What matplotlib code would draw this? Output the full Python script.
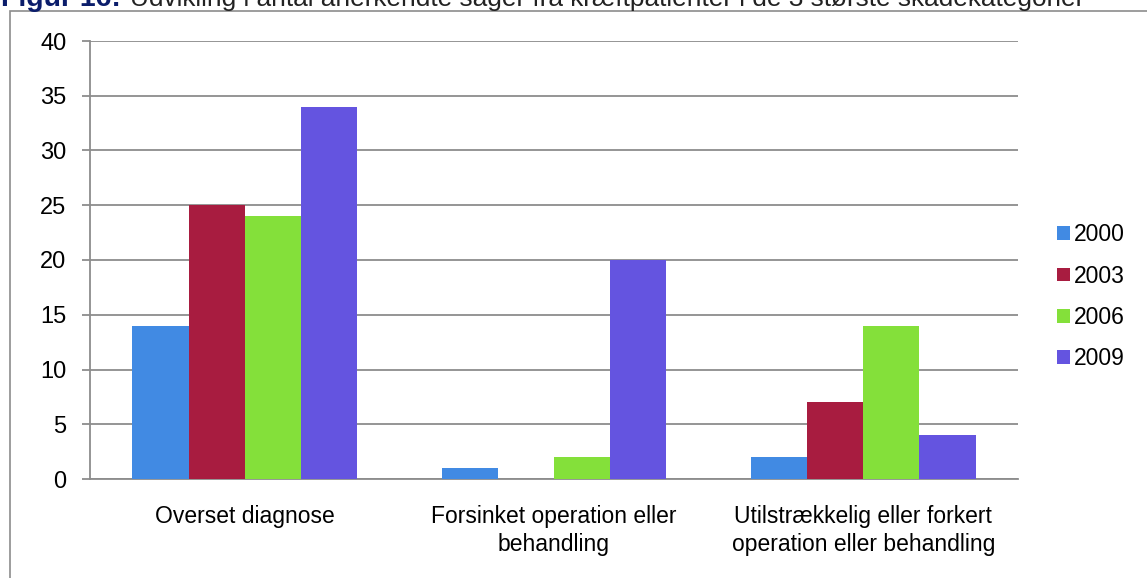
import matplotlib.pyplot as plt
import numpy as np
from matplotlib.patches import Rectangle

categories = ['Overset diagnose', 'Forsinket operation eller\nbehandling',
              'Utilstrækkelig eller forkert\noperation eller behandling']
years = ['2000', '2003', '2006', '2009']
v2000 = [14, 1, 2]
v2003 = [25, 0, 7]
v2006 = [24, 2, 14]
v2009 = [34, 20, 4]
colors = ['#418AE3', '#A81C40', '#84E03A', '#6454E0']

plt.rcParams['font.family'] = ['Liberation Sans', 'DejaVu Sans']

fig = plt.figure(figsize=(11.47, 5.78), dpi=100)
ax = fig.add_axes([90 / 1147, 1 - 479 / 578, 928 / 1147, 438 / 578])

x = np.arange(len(categories))
w = 0.7255 / 4
series = [v2000, v2003, v2006, v2009]
for i, (vals, year) in enumerate(zip(series, years)):
    ax.bar(x + (i - 1.5) * w, vals, w, color=colors[i], label=year, zorder=3)

ax.set_xlim(-0.5, 2.5)
ax.set_ylim(0, 40)
ax.set_yticks(range(0, 41, 5))
ax.yaxis.grid(True, color='#8c8c8c', linewidth=1.3, zorder=0)
ax.set_xticks(x)
ax.set_xticklabels(categories, fontsize=16.5, linespacing=1.28)
ax.tick_params(axis='x', length=0, pad=19)
ax.tick_params(axis='y', labelsize=17, length=6, color='#8c8c8c', width=1.3, pad=11)
for s in ['top', 'right']:
    ax.spines[s].set_visible(False)
for s in ['left', 'bottom']:
    ax.spines[s].set_color('#8c8c8c')
    ax.spines[s].set_linewidth(1.3)

ax.legend(loc='center left', bbox_to_anchor=(1.02, 0.416), frameon=False,
          fontsize=16.5, handlelength=0.55, handleheight=0.55, handletextpad=0.2,
          labelspacing=0.8)

# outer chart border
fig.patches.append(Rectangle((10 / 1147, -0.1), 1.2, 1 - 11 / 578 + 0.1,
                             transform=fig.transFigure, fill=False,
                             edgecolor='#8c8c8c', linewidth=1.2))

# title, mostly cut off at the top
fig.text(1 / 1147, 1 - 6 / 578, 'Figur 16:', fontsize=20.5, fontweight='bold',
         color='#0B1D6B', va='baseline')
fig.text(130 / 1147, 1 - 6 / 578,
         'Udvikling i antal anerkendte sager fra kræftpatienter i de 3 største skadekategorier',
         fontsize=18.9, color='#222222', va='baseline')

fig.savefig('out.png', dpi=100)
